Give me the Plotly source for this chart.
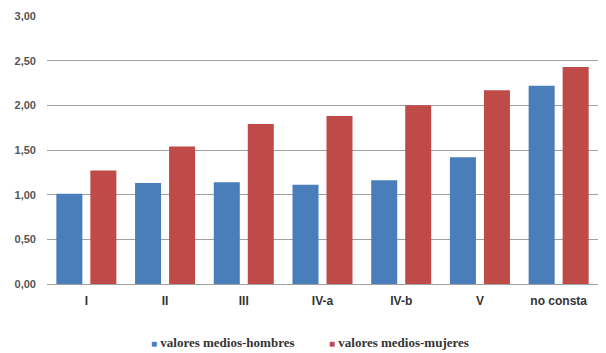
import plotly.graph_objects as go

categorias = ["I", "II", "III", "IV-a", "IV-b", "V", "no consta"]
hombres = [1.01, 1.13, 1.14, 1.11, 1.16, 1.42, 2.22]
mujeres = [1.27, 1.54, 1.79, 1.88, 2.00, 2.17, 2.43]
series = ["valores medios-hombres", "valores medios-mujeres"]

AZUL = "#4A7EBB"
ROJO = "#BE4B48"

fig = go.Figure()
fig.add_trace(go.Bar(x=categorias, y=hombres, name=series[0],
                     marker=dict(color=AZUL, line=dict(width=0))))
fig.add_trace(go.Bar(x=categorias, y=mujeres, name=series[1],
                     marker=dict(color=ROJO, line=dict(width=0))))

# legend drawn as text with coloured square glyphs
for nombre, color, xpos in [(series[0], AZUL, 0.319), (series[1], ROJO, 0.639)]:
    fig.add_annotation(
        x=xpos, y=-0.22, xref="paper", yref="paper", showarrow=False,
        xanchor="center", yanchor="middle",
        text=f"<span style='color:{color}; font-size:10px'>■</span> <b>{nombre}</b>",
        font=dict(family="Liberation Serif", size=13, color="#333333"),
    )

fig.update_layout(
    width=606, height=353,
    margin=dict(l=47, r=8, t=16, b=69),
    paper_bgcolor="white", plot_bgcolor="white",
    barmode="group", bargap=0.136, bargroupgap=0.235,
    separators=",.",
    showlegend=False,
    xaxis=dict(showgrid=False, showline=False, ticks="", ticklabelstandoff=8,
               tickfont=dict(family="Liberation Sans", size=12, color="#333333", weight="bold")),
    yaxis=dict(range=[0, 3], dtick=0.5, tickformat=".2f", showgrid=True,
               gridcolor="#A0A0A0", gridwidth=1, zeroline=True, zerolinecolor="#A0A0A0",
               zerolinewidth=1, showline=False, ticks="", ticklabelstandoff=10,
               tickfont=dict(family="Liberation Sans", size=11, color="#555555", weight="bold")),
)

fig.write_html("out.html")
